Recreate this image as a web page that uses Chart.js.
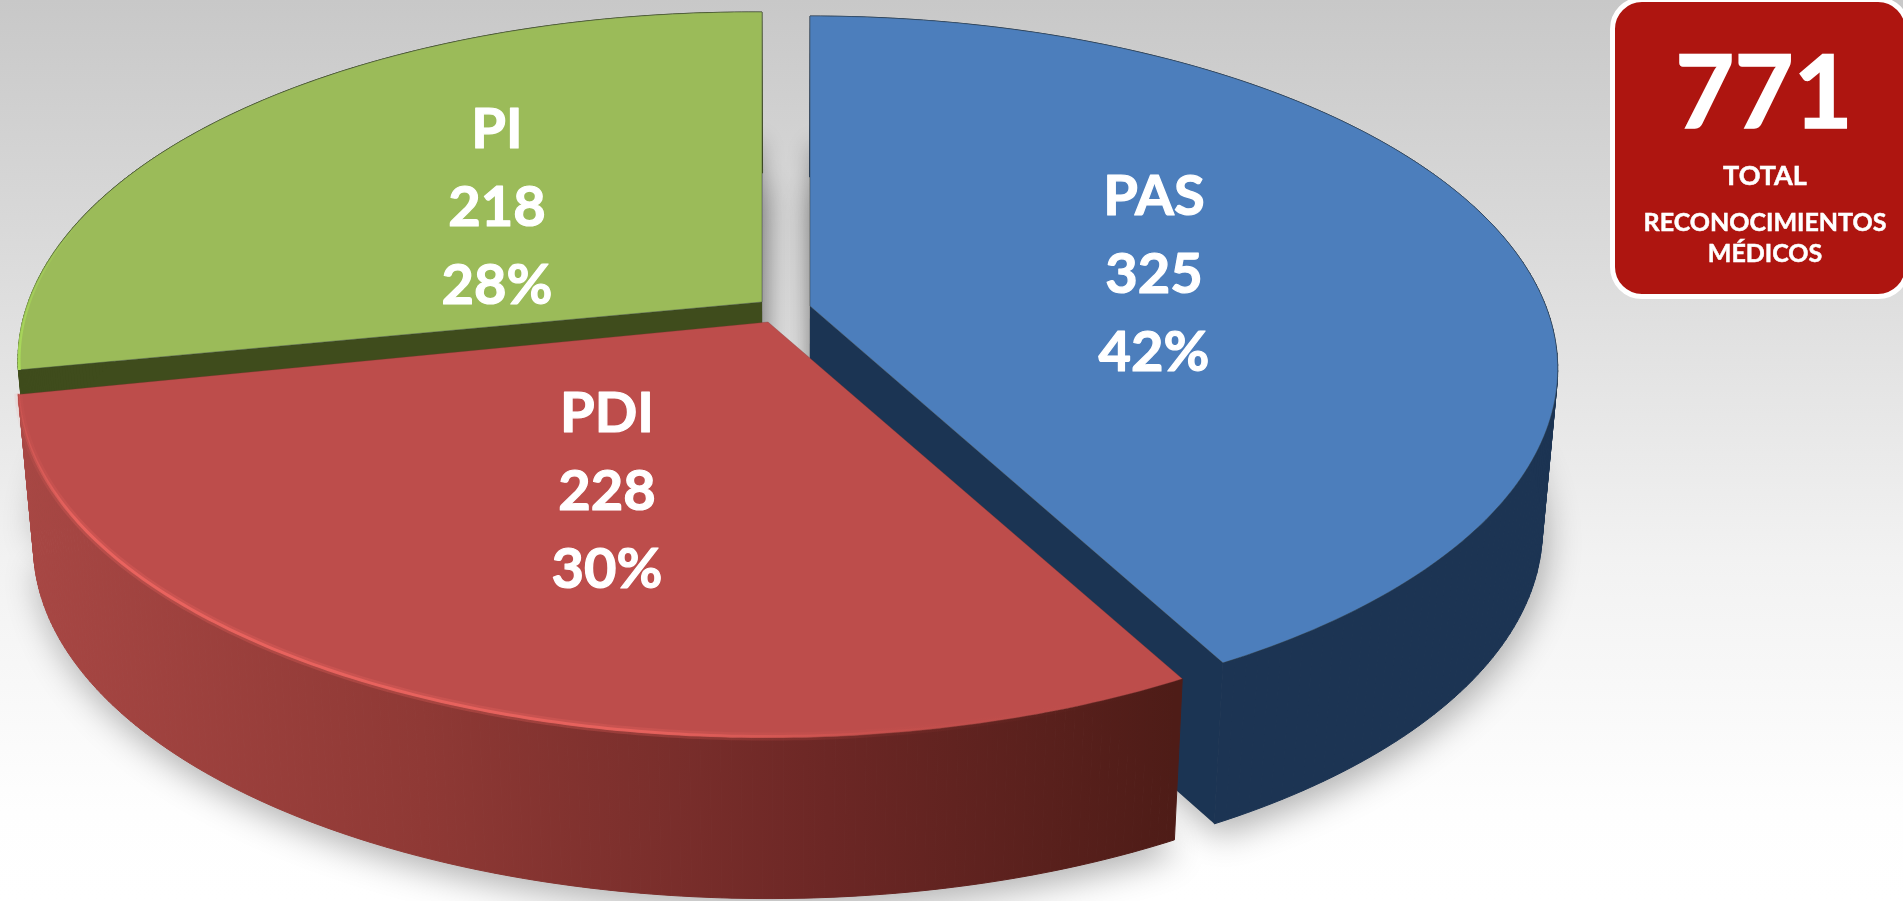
<!DOCTYPE html>
<html lang="es">
<head>
<meta charset="utf-8">
<title>Reconocimientos médicos</title>
<script src="https://cdn.jsdelivr.net/npm/chart.js@4/dist/chart.umd.min.js"></script>
<style>
html,body{margin:0;padding:0;width:1903px;height:901px;overflow:hidden;
  background:linear-gradient(180deg,#c8c8c8 0%,#dcdcdc 30%,#f2f2f2 62%,#fefefe 90%,#ffffff 100%);}
canvas{position:absolute;left:0;top:0;}
#box{position:absolute;left:1610px;top:-3px;width:300px;height:302px;box-sizing:border-box;
  border:5px solid #fff;border-radius:32px;background:#ae1510;color:#fff;
  font-family:Lato,sans-serif;font-weight:700;text-align:center;}
#box div{position:absolute;width:300px;white-space:nowrap;}
</style>
</head>
<body>
<canvas id="c" width="1903" height="901"></canvas>
<div id="box"></div>
<script>
const categories = ['PAS', 'PDI', 'PI'];
const seriesValues = [325, 228, 218];
const percentLabels = ['42%', '30%', '28%'];
const totalValue = '771';
const totalLabels = ['TOTAL', 'RECONOCIMIENTOS', 'MÉDICOS'];

// projection of the flat pie to the tilted view
const view = { rx: 738, ry: 341.6, k: 0.178, depth: 161, vx: 790, sb: 0.98 };
const sliceStyle = [
  { ax: 810, ay: 306, a: 0, xs: 0.997, top: '#4c7ebc', wall: '#1b3453', side: '#1c3453', wallEdge: 'end' },
  { ax: 768, ay: 322, a: 0, xs: 1, top: '#bd4d4b', wall: '#4d1c17', side: 'red', wallEdge: null },
  { ax: 762, ay: 302, a: 0.006, xs: 0.992, top: '#9bbb59', wall: '#3f4c1c', side: '#3f4c1c', wallEdge: 'start' }
];
const labelAnchors = [[1154, 197], [607, 414], [497, 130]];
const labelStep = 78;
const drawOrder = [2, 0, 1];

function project(s, theta) {
  const u = Math.cos(theta), v = -Math.sin(theta), w = 1 + view.k * v;
  const dx = s.xs * view.rx * u / w, dy = -view.ry * v / w;
  return [s.ax + dx, s.ay + dy + s.a * dx];
}
function lower(p) {
  return [view.vx + (p[0] - view.vx) * view.sb, p[1] + view.depth];
}
function arcPts(s, el) {
  const { startAngle, endAngle } = el.getProps(['startAngle', 'endAngle'], true);
  const pts = [];
  const n = 160;
  for (let i = 0; i <= n; i++) pts.push(project(s, startAngle + (endAngle - startAngle) * i / n));
  return pts;
}
function poly(ctx, pts) {
  ctx.beginPath();
  pts.forEach((p, i) => i ? ctx.lineTo(p[0], p[1]) : ctx.moveTo(p[0], p[1]));
  ctx.closePath();
}

const pie3d = {
  id: 'pie3d',
  beforeDatasetsDraw(chart) {
    const ctx = chart.ctx;
    const els = chart.getDatasetMeta(0).data;
    ctx.save();
    const geo = els.map((el, i) => {
      const s = sliceStyle[i], arc = arcPts(s, el);
      return { s, arc, apex: [s.ax, s.ay], low: arc.map(lower), lowApex: lower([s.ax, s.ay]) };
    });
    // soft shadows
    geo.forEach(g => {
      ctx.save();
      ctx.shadowColor = 'rgba(0,0,0,0.3)'; ctx.shadowBlur = 34; ctx.shadowOffsetX = 4; ctx.shadowOffsetY = 12;
      ctx.fillStyle = '#999';
      poly(ctx, [g.lowApex].concat(g.low)); ctx.fill();
      ctx.restore();
    });
    ctx.save();
    ctx.beginPath(); ctx.rect(760, 0, 52, 400); ctx.clip();
    [0, 2].forEach(i => {
      const g = geo[i];
      ctx.save();
      ctx.shadowColor = 'rgba(0,0,0,0.28)'; ctx.shadowBlur = 22; ctx.shadowOffsetY = 130;
      ctx.fillStyle = '#999';
      poly(ctx, [g.apex].concat(g.arc)); ctx.fill();
      ctx.restore();
    });
    ctx.restore();
    drawOrder.forEach(i => {
      const g = geo[i], s = g.s;
      // walls
      if (s.wallEdge) {
        const e = s.wallEdge === 'end' ? g.arc[g.arc.length - 1] : g.arc[0];
        poly(ctx, [g.apex, e, lower(e), g.lowApex]);
        ctx.fillStyle = s.wall; ctx.fill();
      }
      // outer side, one facet per arc step
      let fill = s.side;
      if (s.side === 'red') {
        fill = ctx.createLinearGradient(18, 0, 1175, 0);
        fill.addColorStop(0, '#a84744');
        fill.addColorStop(0.35, '#8f3935');
        fill.addColorStop(0.7, '#6c2725');
        fill.addColorStop(1, '#4e1c17');
      }
      ctx.fillStyle = fill; ctx.strokeStyle = fill; ctx.lineWidth = 1;
      for (let k = 0; k < g.arc.length - 1; k++) {
        poly(ctx, [g.arc[k], g.arc[k + 1], g.low[k + 1], g.low[k]]);
        ctx.fill(); ctx.stroke();
      }
      // top face
      poly(ctx, [g.apex].concat(g.arc));
      ctx.fillStyle = s.top; ctx.fill();
      ctx.lineWidth = 1;
      ctx.strokeStyle = i === 1 ? 'rgba(120,50,45,0.3)' : 'rgba(50,60,60,0.4)';
      ctx.stroke();
      // bevel highlight on the rim
      if (i === 1) {
        const hl = ctx.createLinearGradient(20, 0, 1170, 0);
        hl.addColorStop(0, 'rgba(235,100,95,0.25)');
        hl.addColorStop(0.05, 'rgba(235,100,95,0.95)');
        hl.addColorStop(0.55, 'rgba(235,100,95,0.85)');
        hl.addColorStop(0.78, 'rgba(215,85,80,0.2)');
        hl.addColorStop(1, 'rgba(190,80,75,0)');
        ctx.save();
        ctx.beginPath();
        g.arc.forEach((p, k) => k ? ctx.lineTo(p[0], p[1] - 1) : ctx.moveTo(p[0], p[1] - 1));
        ctx.strokeStyle = hl;
        ctx.globalAlpha = 0.3; ctx.lineWidth = 8; ctx.stroke();
        ctx.globalAlpha = 1; ctx.lineWidth = 3; ctx.stroke();
        ctx.restore();
      }
      if (i === 2) {
        const hl = ctx.createLinearGradient(0, 220, 0, 368);
        hl.addColorStop(0, 'rgba(170,220,90,0)');
        hl.addColorStop(1, 'rgba(170,220,90,1)');
        ctx.beginPath();
        g.arc.forEach((p, k) => k ? ctx.lineTo(p[0] + 1, p[1]) : ctx.moveTo(p[0] + 1, p[1]));
        ctx.strokeStyle = hl; ctx.lineWidth = 3; ctx.stroke();
      }
    });
    // slice labels
    ctx.fillStyle = '#fff';
    ctx.strokeStyle = '#fff';
    ctx.lineWidth = 1.2;
    ctx.lineJoin = 'round';
    ctx.font = '700 56px Lato, sans-serif';
    ctx.textAlign = 'center';
    ctx.textBaseline = 'middle';
    categories.forEach((c, i) => {
      const [x, y] = labelAnchors[i];
      [c, String(seriesValues[i]), percentLabels[i]].forEach((t, k) => {
        ctx.fillText(t, x, y + k * labelStep);
        ctx.strokeText(t, x, y + k * labelStep);
      });
    });
    ctx.restore();
    return false;
  }
};

new Chart(document.getElementById('c'), {
  type: 'pie',
  data: { labels: categories, datasets: [{ data: seriesValues, backgroundColor: sliceStyle.map(s => s.top), borderWidth: 0 }] },
  options: {
    responsive: false, animation: false,
    layout: { padding: 0 },
    plugins: { legend: { display: false }, tooltip: { enabled: false } }
  },
  plugins: [pie3d]
});

const box = document.getElementById('box');
function addLine(text, left, top, size, stroke) {
  const d = document.createElement('div');
  d.textContent = text;
  d.style.left = left + 'px';
  d.style.top = top + 'px';
  d.style.fontSize = size + 'px';
  d.style.lineHeight = size + 'px';
  d.style.webkitTextStroke = stroke + 'px #fff';
  box.appendChild(d);
}
addLine(totalValue, -1, 36, 102, 1.5);
addLine(totalLabels[0], 0, 159, 27, 0.5);
addLine(totalLabels[1], 0, 207, 25, 0.5);
addLine(totalLabels[2], 0, 238, 25, 0.5);
</script>
</body>
</html>
